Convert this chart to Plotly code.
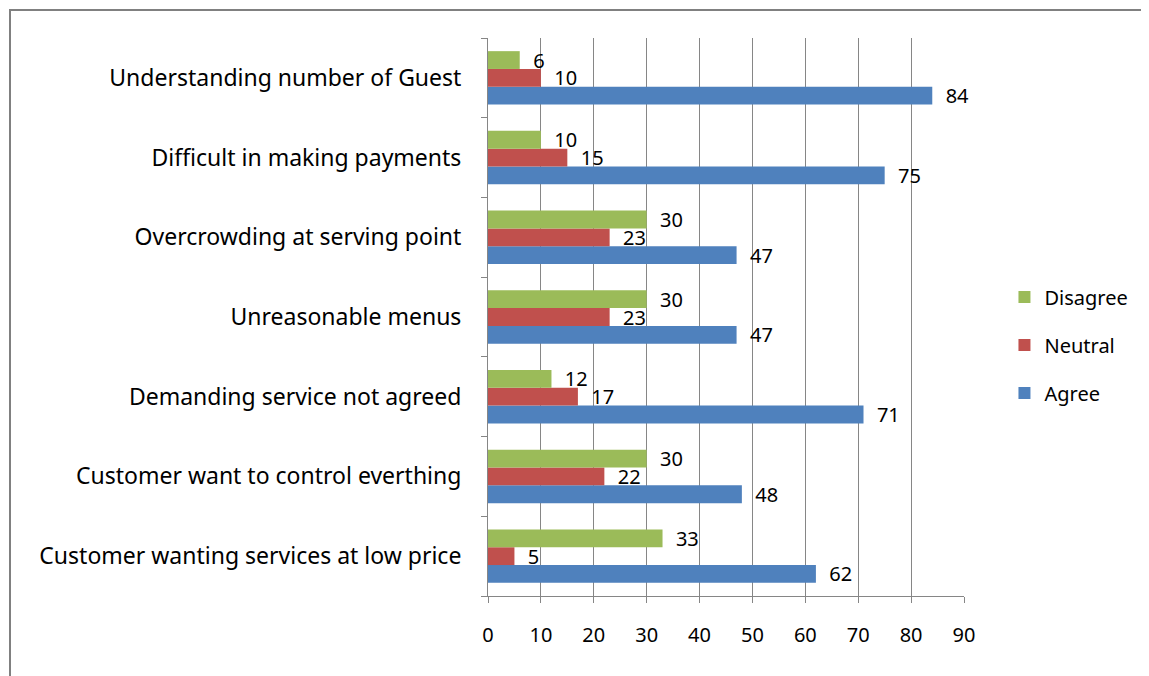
import plotly.graph_objects as go

categories = [
    "Customer wanting services at low price",
    "Customer want to control everthing",
    "Demanding service not agreed",
    "Unreasonable menus",
    "Overcrowding at serving point",
    "Difficult in making payments",
    "Understanding number of Guest",
]
agree = [62, 48, 71, 47, 47, 75, 84]
neutral = [5, 22, 17, 23, 23, 15, 10]
disagree = [33, 30, 12, 30, 30, 10, 6]
x_ticks = [0, 10, 20, 30, 40, 50, 60, 70, 80, 90]

FONT = "Noto Sans"
series = [("Agree", agree, "#4F81BD", 3), ("Neutral", neutral, "#C0504D", 2), ("Disagree", disagree, "#9BBB59", 1)]

fig = go.Figure()
for name, vals, col, rank in series:
    fig.add_trace(go.Bar(
        name=name, y=categories, x=vals, orientation="h", legendgroup=name,
        legendrank=rank,
        marker=dict(color=col, line=dict(width=0)),
        text=["  " + str(v) for v in vals], textposition="outside",
        textfont=dict(family=FONT, size=20, color="#000000"),
        constraintext="none", cliponaxis=False,
    ))

L, T, PW, PH = 480, 30, 476, 558
fig.update_layout(
    width=1149, height=676,
    paper_bgcolor="white", plot_bgcolor="white",
    margin=dict(l=L, r=1149 - L - PW, t=T, b=676 - T - PH),
    barmode="group", bargap=0.33, bargroupgap=0,
    font=dict(family=FONT, size=20, color="#000000"),
    showlegend=True,
    legend=dict(x=1.085, y=0.45, xanchor="left", yanchor="middle",
                traceorder="grouped", font=dict(family=FONT, size=20),
                itemwidth=30, tracegroupgap=19, bgcolor="rgba(0,0,0,0)"),
    shapes=[dict(type="rect", xref="paper", yref="paper",
                 x0=(2 - L) / PW, x1=(1170 - L) / PW,
                 y0=-(676 + 20 - T - PH) / PH, y1=(PH + T - 2) / PH,
                 line=dict(color="#808080", width=2), fillcolor="rgba(0,0,0,0)", layer="below")],
)
fig.update_xaxes(
    range=[0, 90], tickvals=x_ticks, ticktext=[str(t) for t in x_ticks],
    showgrid=True, gridcolor="#868686", gridwidth=1,
    showline=True, linecolor="#868686", linewidth=1,
    ticks="outside", ticklen=6, tickcolor="#868686",
    ticklabelstandoff=15, zeroline=False,
    tickfont=dict(family=FONT, size=20),
)
fig.update_yaxes(
    categoryorder="array", categoryarray=categories,
    showline=True, linecolor="#868686", linewidth=1,
    ticks="outside", ticklen=6, tickcolor="#868686", tickson="boundaries",
    showgrid=False, ticklabelstandoff=21,
    tickfont=dict(family=FONT, size=23),
)

fig.write_html("out.html")
